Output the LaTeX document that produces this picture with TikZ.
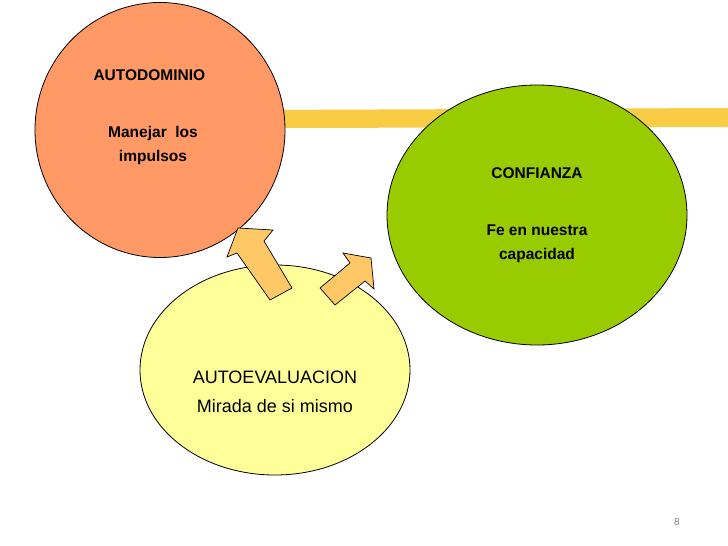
\documentclass[tikz,border=0pt]{standalone}
\usepackage{fontspec}
\usetikzlibrary{shapes.geometric}
\setmainfont{Liberation Sans}
\begin{document}
\begin{tikzpicture}[x=1pt,y=-1pt,
  circ/.style={draw=black,line width=0.8pt},
  arr/.style={draw=black,fill=arrowc,line width=0.7pt,line join=miter},
  lbl/.style={align=center,font=\fontsize{15.5}{24}\selectfont\bfseries}]
\definecolor{orangec}{HTML}{FF9966}
\definecolor{greenc}{HTML}{99CC00}
\definecolor{yellowc}{HTML}{FFFF99}
\definecolor{arrowc}{HTML}{FFC866}
\definecolor{hl}{HTML}{F7C631}
\useasboundingbox (0,0) rectangle (728,546);
\fill[hl,opacity=0.9] (260,110) -- (728,108) -- (728,127) -- (260,128) -- cycle;
\node[circ,fill=orangec,ellipse,minimum width=250pt,minimum height=255pt,inner sep=0pt] (o) at (160,130) {};
\node[circ,fill=greenc,ellipse,minimum width=300pt,minimum height=260pt,inner sep=0pt] (g) at (537,215) {};
\node[circ,fill=yellowc,ellipse,minimum width=270pt,minimum height=210pt,inner sep=0pt] (y) at (275,370) {};
\draw[arr] (270,300) -- (292,288) -- (264,241) -- (273,230) -- (238,228) -- (227,257) -- (237,253) -- cycle;
\draw[arr] (320,288) -- (335,305) -- (365,281) -- (374,289) -- (371,258) -- (343,253) -- (350,263) -- cycle;
\node[lbl,anchor=west] (t1) at (90,75) {AUTODOMINIO};
\node[lbl] (t2) at (153,145) {Manejar\ \ los\\impulsos};
\node[lbl] (t3) at (537,173) {CONFIANZA};
\node[lbl] (t4) at (537,244) {Fe en nuestra\\capacidad};
\node[align=center,font=\fontsize{18}{29}\selectfont] (t5) at (275,392) {AUTOEVALUACION\\Mirada de si mismo};
\node[font=\fontsize{10}{11}\selectfont,text=gray] (n) at (677,522) {8};
\end{tikzpicture}
\end{document}
